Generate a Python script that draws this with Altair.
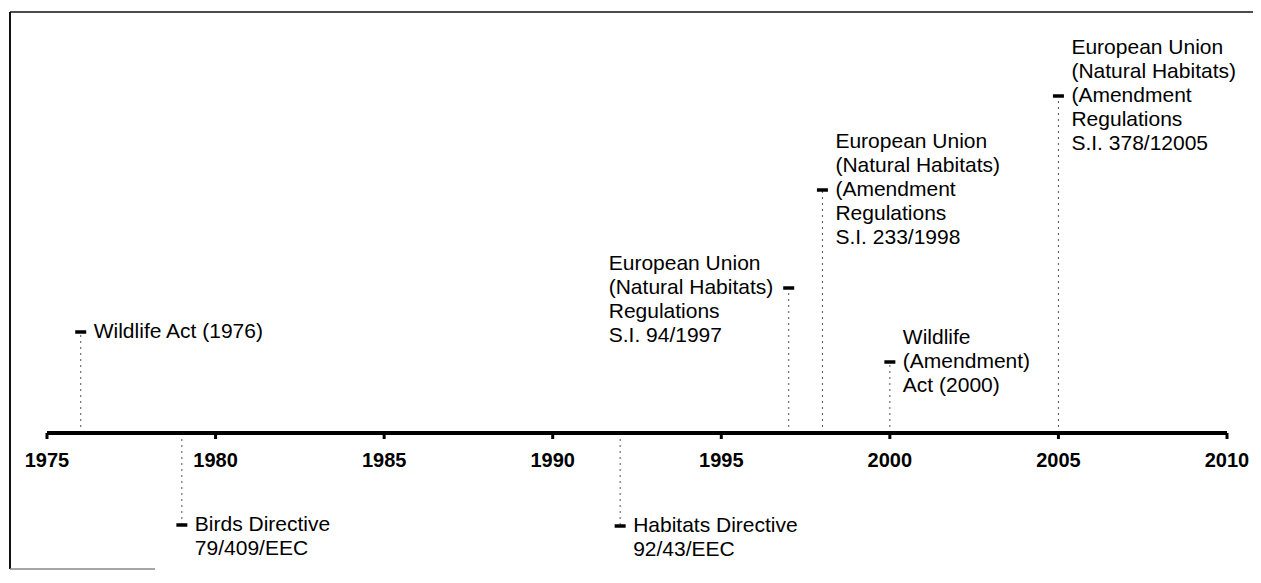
import altair as alt
import pandas as pd

# ---- data -------------------------------------------------------------
axis_start = 1975
axis_end = 2010
tick_years = [1975, 1980, 1985, 1990, 1995, 2000, 2005, 2010]

event_years = [1976, 1979, 1992, 1997, 1998, 2000, 2005]
event_levels = [101, -92, -93, 145, 243, 71, 337]
event_labels = [
    "Wildlife Act (1976)",
    "Birds Directive\n79/409/EEC",
    "Habitats Directive\n92/43/EEC",
    "European Union\n(Natural Habitats)\nRegulations\nS.I. 94/1997",
    "European Union\n(Natural Habitats)\n(Amendment\nRegulations\nS.I. 233/1998",
    "Wildlife\n(Amendment)\nAct (2000)",
    "European Union\n(Natural Habitats)\n(Amendment\nRegulations\nS.I. 378/12005",
]
marker_line = [0, 0, 0, 1, 2, 1, 2]
label_side = ["right", "right", "right", "left", "right", "right", "right"]

# ---- tables -----------------------------------------------------------
LINE_H = 24
W, H = 1180, 555
FONT = "Liberation Sans"

events = pd.DataFrame({"year": event_years, "level": event_levels})
ticks = pd.DataFrame({"year": tick_years})
axis_df = pd.DataFrame({"start": [axis_start], "end": [axis_end]})

rows = []
for yr, lv, lab, ml, side in zip(event_years, event_levels, event_labels,
                                 marker_line, label_side):
    for i, line in enumerate(lab.split("\n")):
        rows.append({"year": yr, "y": lv - (i - ml) * LINE_H,
                     "text": line, "side": side})
lines = pd.DataFrame(rows)

xs = alt.Scale(domain=[axis_start, axis_end], nice=False, zero=False)
ys = alt.Scale(domain=[-134, 421], nice=False, zero=False)


def X(f):
    return alt.X(f, type="quantitative", scale=xs, axis=None)


def Y(f):
    return alt.Y(f, type="quantitative", scale=ys, axis=None)


# ---- frame --------------------------------------------------------------
frame_top = alt.Chart(axis_df).mark_rule(color="#111", strokeWidth=1.5).encode(
    x=alt.value(-37), x2=alt.value(W + 26), y=alt.value(0))
frame_left = alt.Chart(axis_df).mark_rule(color="#111", strokeWidth=2).encode(
    x=alt.value(-37), y=alt.value(0), y2=alt.value(H + 2))
frame_bottom = alt.Chart(axis_df).mark_rule(color="#888", strokeWidth=1.5).encode(
    x=alt.value(-37), x2=alt.value(108), y=alt.value(H + 2))

# ---- axis ---------------------------------------------------------------
axis_line = alt.Chart(axis_df).transform_calculate(zero="0").mark_rule(
    color="#000", strokeWidth=4).encode(
    x=X("start"), x2="end", y=Y("zero:Q"))

tick_marks = alt.Chart(ticks).transform_calculate(top="0", bot="-6").mark_rule(
    color="#000", strokeWidth=3).encode(
    x=X("year"), y=Y("top:Q"), y2="bot:Q")

tick_labels = alt.Chart(ticks).transform_calculate(ly="-28").mark_text(
    font=FONT, fontSize=20, fontWeight="bold", color="#000",
    align="center", baseline="middle").encode(
    x=X("year"), y=Y("ly:Q"), text=alt.Text("year:Q", format="d"))

# ---- events -------------------------------------------------------------
connectors = alt.Chart(events).transform_calculate(zero="0").mark_rule(
    color="#555", strokeWidth=1, strokeDash=[2, 4]).encode(
    x=X("year"), y=Y("zero:Q"), y2="level:Q")

markers = alt.Chart(events).mark_tick(
    orient="horizontal", size=11, thickness=3.5, color="#000",
    opacity=1).encode(
    x=X("year"), y=Y("level"))

labels_right = alt.Chart(lines).transform_filter(
    alt.datum.side == "right").mark_text(
    font=FONT, fontSize=21, color="#000", align="left", baseline="middle",
    dx=13).encode(x=X("year"), y=Y("y"), text="text:N")

labels_left = alt.Chart(lines).transform_filter(
    alt.datum.side == "left").mark_text(
    font=FONT, fontSize=21, color="#000", align="left", baseline="middle",
    dx=-180).encode(x=X("year"), y=Y("y"), text="text:N")

chart = alt.layer(
    frame_top, frame_left, frame_bottom,
    connectors, axis_line, tick_marks, tick_labels,
    markers, labels_right, labels_left,
).properties(
    width=W, height=H,
    autosize=alt.AutoSizeParams(type="none"),
    padding={"left": 39, "top": 4, "right": 26, "bottom": 3},
).configure_view(stroke=None)

chart.save("out.html", embed_options={"renderer": "svg", "actions": False})
